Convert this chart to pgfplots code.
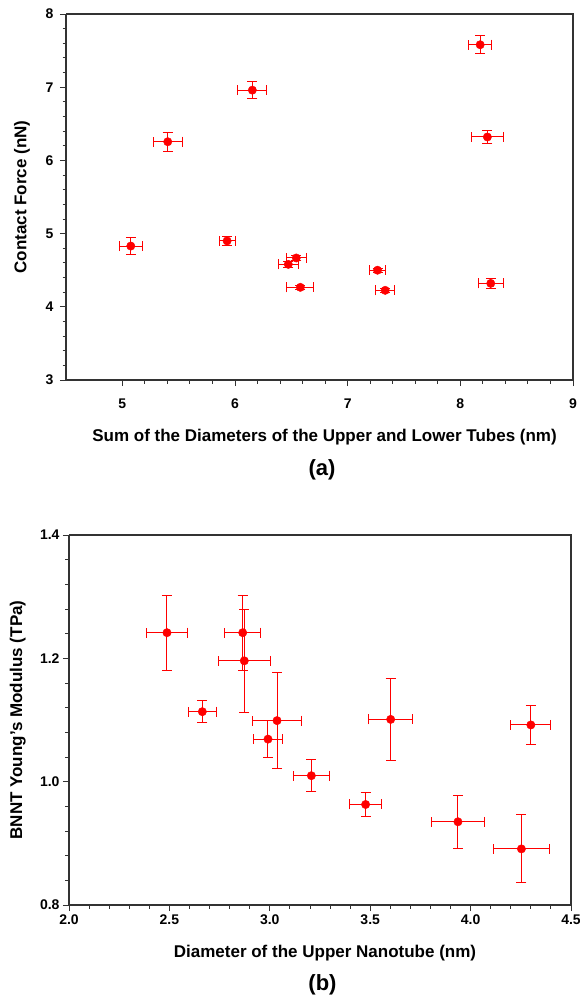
\documentclass[border=0pt]{standalone}
\usepackage{pgfplots}
\pgfplotsset{compat=1.18}
\usepackage{fontspec}
\setmainfont{Liberation Sans}

\pgfplotstableread{
x y ex ey
8.176 7.58 0.105 0.12
6.154 6.96 0.13 0.12
5.403 6.255 0.13 0.13
8.240 6.32 0.14 0.095
5.075 4.83 0.10 0.11
5.930 4.90 0.07 0.064
6.544 4.667 0.09 0.04
6.473 4.58 0.09 0.04
6.580 4.266 0.12 0.025
7.265 4.50 0.075 0.03
7.333 4.225 0.084 0.03
8.270 4.32 0.11 0.07
}\forcedata

\pgfplotstableread{
x y ex ey
2.488 1.2416 0.10 0.061
2.865 1.2416 0.089 0.061
2.873 1.196 0.13 0.084
2.664 1.1135 0.07 0.018
3.036 1.099 0.12 0.078
2.991 1.069 0.07 0.030
3.207 1.0097 0.09 0.026
3.602 1.101 0.11 0.067
4.300 1.092 0.10 0.031
3.477 0.963 0.081 0.019
3.937 0.935 0.13 0.043
4.253 0.891 0.14 0.055
}\moddata

\pgfplotsset{
  myaxis/.style={
    scale only axis,
    axis line style={black!80, line width=1.1pt},
    axis x line*=bottom, axis y line*=left,
    tick align=outside,
    tick style={black!80, line width=0.9pt},
    major tick length=6pt, minor tick length=3.5pt,
    minor tick num=4,
    xtick pos=bottom, ytick pos=left,
    tick label style={font=\fontsize{14}{16}\selectfont\bfseries},
    /pgf/number format/assume math mode=true,
    label style={font=\fontsize{17}{19}\selectfont\bfseries},
    clip=false,
  },
  myplot/.style={
    only marks, mark=*, mark size=4.2pt,
    mark options={red, fill=red, draw=red},
    error bars/.cd,
      x dir=both, x explicit,
      y dir=both, y explicit,
      error bar style={red, line width=1pt},
      error mark options={red, line width=1pt, mark size=5pt, rotate=90},
  },
}

\begin{document}
\begin{tikzpicture}
\clip (0pt,0pt) rectangle (579pt,-1001pt);
\begin{axis}[myaxis,
  at={(66pt,-380pt)}, anchor=south west,
  width=507pt, height=366pt,
  xmin=4.5, xmax=9, ymin=3, ymax=8,
  xtick={5,6,7,8,9}, ytick={3,4,5,6,7,8},
  xticklabel style={yshift=-9pt},
  yticklabel style={xshift=-3pt},
  xlabel={Sum of the Diameters of the Upper and Lower Tubes (nm)},
  ylabel={Contact Force (nN)},
  xlabel style={at={(axis description cs:0.51,-0.156)}, anchor=center},
  ylabel style={at={(axis description cs:-0.087,0.5)}, anchor=center},
]
\draw[black!80, line width=1.1pt] (rel axis cs:0,1) -- (rel axis cs:1,1) -- (rel axis cs:1,0);
\addplot+[myplot] table[x=x, y=y, x error=ex, y error=ey] {\forcedata};
\node[font=\fontsize{22}{24}\selectfont\bfseries] at (rel axis cs:0.505,-0.246) {(a)};
\end{axis}

\begin{axis}[myaxis,
  at={(69pt,-905pt)}, anchor=south west,
  width=502pt, height=370pt,
  xmin=2, xmax=4.5, ymin=0.8, ymax=1.4,
  xtick={2,2.5,3,3.5,4,4.5}, ytick={0.8,1.0,1.2,1.4},
  xticklabel style={/pgf/number format/.cd, fixed, fixed zerofill, precision=1},
  yticklabel style={/pgf/number format/.cd, fixed, fixed zerofill, precision=1},
  xlabel={Diameter of the Upper Nanotube (nm)},
  ylabel={BNNT Young's Modulus (TPa)},
  xlabel style={at={(axis description cs:0.51,-0.13)}, anchor=center},
  ylabel style={at={(axis description cs:-0.102,0.5)}, anchor=center},
]
\draw[black!80, line width=1.1pt] (rel axis cs:0,1) -- (rel axis cs:1,1) -- (rel axis cs:1,0);
\addplot+[myplot] table[x=x, y=y, x error=ex, y error=ey] {\moddata};
\node[font=\fontsize{22}{24}\selectfont\bfseries] at (rel axis cs:0.505,-0.216) {(b)};
\end{axis}
\end{tikzpicture}
\end{document}
